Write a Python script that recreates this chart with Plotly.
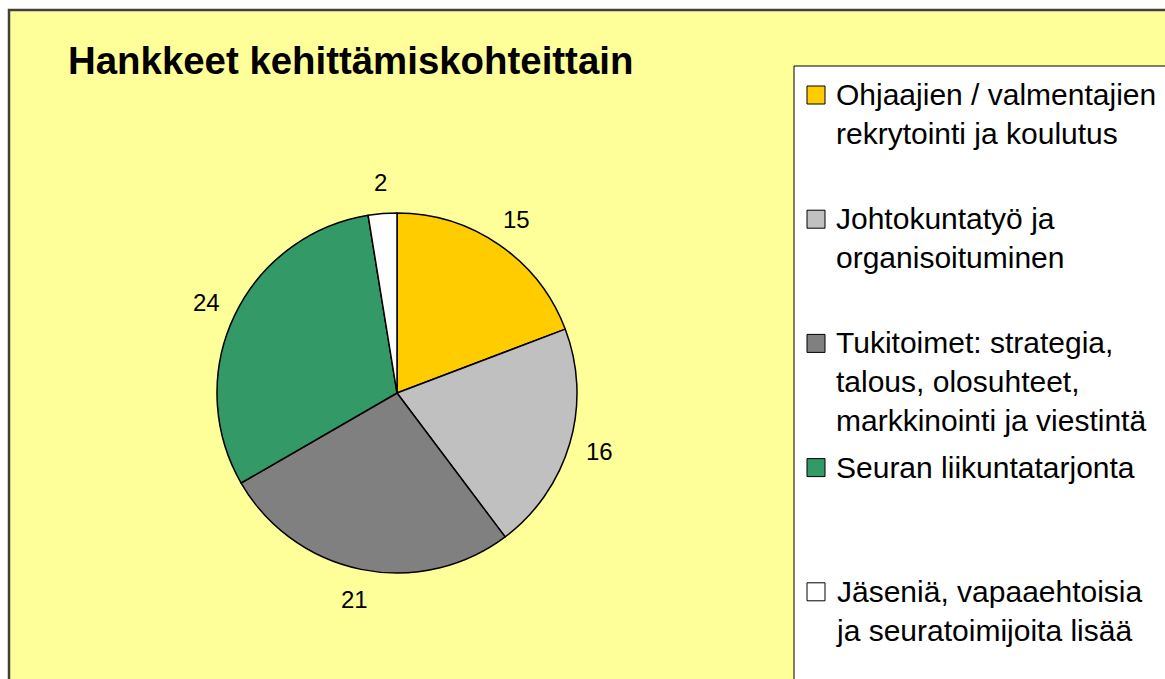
import math
import plotly.graph_objects as go

W, H = 1165, 679

title = "Hankkeet kehittämiskohteittain"
categories = [
    "Ohjaajien / valmentajien<br>rekrytointi ja koulutus",
    "Johtokuntatyö ja<br>organisoituminen",
    "Tukitoimet: strategia,<br>talous, olosuhteet,<br>markkinointi ja viestintä",
    "Seuran liikuntatarjonta",
    "Jäseniä, vapaaehtoisia<br>ja seuratoimijoita lisää",
]
values = [15, 16, 21, 24, 2]
colors = ["#FFCC00", "#C0C0C0", "#808080", "#339966", "#FFFFFF"]

FONT = "Arial, Liberation Sans, sans-serif"


def px(x):
    return x / W


def py(y):
    return 1 - y / H


# pie geometry (pixels)
cx, cy, r = 397, 393, 180

fig = go.Figure()

fig.add_trace(go.Pie(
    labels=[c.replace("<br>", " ") for c in categories],
    values=values,
    marker=dict(colors=colors, line=dict(color="black", width=1.5)),
    sort=False,
    direction="clockwise",
    rotation=0,
    textinfo="none",
    hoverinfo="label+value",
    showlegend=False,
    domain=dict(x=[px(cx - r), px(cx + r)], y=[py(cy + r), py(cy - r)]),
))

shapes = []
annotations = []

# chart area background and border
shapes.append(dict(type="rect", xref="paper", yref="paper",
                   x0=px(9), x1=px(W + 40), y0=py(H + 40), y1=py(10),
                   fillcolor="#FFFF99", line=dict(color="#404040", width=2.5),
                   layer="below"))

# legend box
shapes.append(dict(type="rect", xref="paper", yref="paper",
                   x0=px(794), x1=px(W + 40), y0=py(H + 40), y1=py(66),
                   fillcolor="#FFFFFF", line=dict(color="black", width=1),
                   layer="below"))

# data labels around the pie, positioned from the values
total = sum(values)
cum = 0
label_r = 211
for v in values:
    mid = (cum + v / 2) / total * 2 * math.pi
    cum += v
    lx = cx + label_r * math.sin(mid)
    ly = cy - label_r * math.cos(mid)
    annotations.append(dict(x=px(lx), y=py(ly), xref="paper", yref="paper",
                            text=str(v), showarrow=False,
                            xanchor="center", yanchor="middle",
                            font=dict(family=FONT, size=24, color="black")))

# title
annotations.append(dict(x=px(66), y=py(60), xref="paper", yref="paper",
                        text="<b>" + title + "</b>", showarrow=False,
                        xanchor="left", yanchor="middle",
                        font=dict(family=FONT, size=38.4, color="black")))

# custom legend
line_h = 38
first_y = 95
step = 124.2
for i, (cat, col) in enumerate(zip(categories, colors)):
    yc = first_y + i * step
    n = cat.count("<br>") + 1
    shapes.append(dict(type="rect", xref="paper", yref="paper",
                       x0=px(807), x1=px(825), y0=py(yc + 9), y1=py(yc - 9),
                       fillcolor=col, line=dict(color="black", width=1)))
    annotations.append(dict(x=px(834), y=py(yc + (n - 1) * line_h / 2),
                            xref="paper", yref="paper",
                            text=cat, showarrow=False, align="left",
                            xanchor="left", yanchor="middle",
                            font=dict(family=FONT, size=30, color="black")))

fig.update_layout(
    width=W, height=H,
    margin=dict(l=0, r=0, t=0, b=0),
    paper_bgcolor="white",
    plot_bgcolor="white",
    shapes=shapes,
    annotations=annotations,
    showlegend=False,
)

fig.write_html("out.html")
